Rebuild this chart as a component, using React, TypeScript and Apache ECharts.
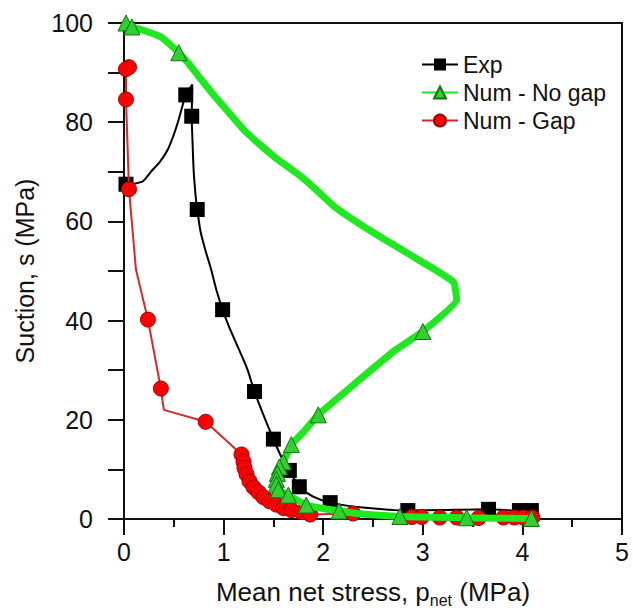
import React, { useEffect, useRef } from "react";
import * as echarts from "echarts";

// Exp (black squares)
const expX = [0.02, 0.1, 0.19, 0.27, 0.36, 0.44, 0.5, 0.55, 0.62, 0.685, 0.68, 0.69, 0.7, 0.72, 0.735, 0.77, 0.82, 0.875, 0.93, 0.99, 1.05, 1.11, 1.18, 1.24, 1.31, 1.38, 1.44, 1.5, 1.58, 1.66, 1.76, 1.9, 2.07, 2.4, 2.85, 3.2, 3.66, 3.97, 4.09];
const expY = [67.5, 67.6, 68.1, 70, 72, 74.5, 77.5, 80.6, 85.5, 87.6, 81.2, 75, 70, 65, 62.4, 57.8, 54, 50.3, 46, 42.2, 39, 36.2, 33, 30.1, 25.7, 22, 19, 16.1, 12.5, 9.8, 6.5, 4.5, 3.3, 2.3, 1.7, 1.8, 1.95, 1.7, 1.7];
const expMarked = [1, 0, 0, 0, 0, 0, 0, 0, 1, 0, 1, 0, 0, 0, 1, 0, 0, 0, 0, 1, 0, 0, 0, 0, 1, 0, 0, 1, 0, 1, 1, 0, 1, 0, 1, 0, 1, 1, 1];

// Num - No gap (green triangles)
const noGapX = [0.02, 0.08, 0.2, 0.37, 0.55, 0.65, 0.77, 0.9, 1.05, 1.2, 1.38, 1.53, 1.68, 1.78, 1.95, 2.11, 2.28, 2.45, 2.62, 2.79, 2.95, 3.12, 3.31, 3.34, 3.0, 2.72, 2.3, 1.95, 1.8, 1.68, 1.6, 1.56, 1.54, 1.53, 1.53, 1.55, 1.65, 1.83, 2.16, 2.45, 2.77, 3.1, 3.44, 4.09];
const noGapY = [100, 99.2, 98.5, 97.2, 94, 91.8, 88.7, 85.5, 82, 78.5, 75.2, 72.7, 70.5, 69, 66, 63, 60.6, 58.4, 56.3, 54.3, 52.3, 50.3, 47.7, 44.2, 37.8, 34, 27, 21, 17.5, 15, 11.5, 10.5, 9.2, 8, 7, 5.9, 4.8, 2.8, 1.6, 0.9, 0.5, 0.35, 0.25, 0.1];
const noGapMarked = [1, 1, 0, 0, 1, 0, 0, 0, 0, 0, 0, 0, 0, 0, 0, 0, 0, 0, 0, 0, 0, 0, 0, 0, 1, 0, 0, 1, 0, 1, 1, 1, 1, 1, 1, 1, 1, 1, 1, 0, 1, 0, 1, 1];

// Num - Gap (red circles)
const gapX = [0.05, 0.02, 0.02, 0.05, 0.12, 0.24, 0.37, 0.4, 0.82, 1.18, 1.2, 1.21, 1.23, 1.26, 1.3, 1.35, 1.4, 1.46, 1.53, 1.6, 1.68, 1.78, 1.87, 2.3, 2.89, 2.99, 3.17, 3.34, 3.56, 3.81, 3.92, 4.01, 4.1];
const gapY = [91.1, 90.7, 84.6, 66.5, 50.3, 40.2, 26.3, 22, 19.6, 13, 11.5, 10.3, 9, 7.6, 6.4, 5.4, 4.4, 3.6, 2.9, 2.2, 1.8, 1.4, 0.9, 1.1, 0.4, 0.4, 0.3, 0.3, 0.2, 0.3, 0.3, 0.3, 0.3];
const gapMarked = [1, 1, 1, 1, 0, 1, 1, 0, 1, 1, 1, 1, 1, 1, 1, 1, 1, 1, 1, 1, 1, 1, 1, 1, 1, 1, 1, 1, 1, 1, 1, 1, 1];

const xTicks = [0, 5, 1];
const yTicks = [0, 100, 10];

function build(xs: number[], ys: number[], marks: number[]) {
  return xs.map((x, i) => (marks[i] ? { value: [x, ys[i]] } : { value: [x, ys[i]], symbol: "none" }));
}

const FONT = "'Liberation Sans', Arial, Helvetica, sans-serif";

export default function App() {
  const ref = useRef<HTMLDivElement>(null);
  useEffect(() => {
    if (!ref.current) return;
    const chart = echarts.init(ref.current, undefined, { renderer: "svg" });
    chart.setOption({
      animation: false,
      backgroundColor: "#fff",
      textStyle: { fontFamily: FONT, color: "#111" },
      grid: {
        left: 124,
        right: 11,
        top: 23,
        bottom: 92,
        outerBoundsMode: "none",
        containLabel: false,
        show: true,
        borderColor: "#111",
        borderWidth: 2,
      },
      legend: {
        orient: "vertical",
        left: 416,
        top: 48,
        itemWidth: 36,
        itemHeight: 15,
        itemGap: 5,
        textStyle: { fontSize: 23, color: "#111", fontFamily: FONT, lineHeight: 23 },
        data: ["Exp", "Num - No gap", "Num - Gap"],
      },
      xAxis: {
        type: "value",
        min: xTicks[0],
        max: xTicks[1],
        interval: xTicks[2],
        name: "Mean net stress, p{sub|net} (MPa)",
        nameLocation: "middle",
        nameGap: 57,
        nameTextStyle: {
          fontSize: 26,
          color: "#111",
          fontFamily: FONT,
          lineHeight: 32,
          rich: { sub: { fontSize: 16, verticalAlign: "bottom", lineHeight: 32, color: "#111", fontFamily: FONT } },
        },
        axisLine: { show: true, onZero: false, lineStyle: { color: "#111", width: 2 } },
        axisTick: { show: true, length: 16, lineStyle: { color: "#111", width: 2 } },
        minorTick: { show: true, splitNumber: 2, length: 8, lineStyle: { color: "#111", width: 2 } },
        axisLabel: { fontSize: 25, color: "#111", margin: 20, fontFamily: FONT },
        splitLine: { show: false },
      },
      yAxis: {
        type: "value",
        min: yTicks[0],
        max: yTicks[1],
        interval: yTicks[2],
        name: "Suction, s (MPa)",
        nameLocation: "middle",
        nameGap: 87,
        nameTextStyle: { fontSize: 25, color: "#111", fontFamily: FONT },
        axisLine: { show: true, onZero: false, lineStyle: { color: "#111", width: 2 } },
        axisTick: { show: true, length: 16, lineStyle: { color: "#111", width: 2 } },
        axisLabel: {
          fontSize: 25,
          color: "#111",
          margin: 31,
          fontFamily: FONT,
          formatter: (v: number) => (v % 20 === 0 ? String(v) : ""),
        },
        splitLine: { show: false },
      },
      series: [
        {
          name: "Exp",
          type: "line",
          z: 2,
          smooth: 0.2,
          data: build(expX, expY, expMarked),
          symbol: "rect",
          symbolSize: 15,
          showSymbol: true,
          itemStyle: { color: "#000", borderColor: "#000", borderWidth: 0 },
          lineStyle: { color: "#000", width: 2 },
        },
        {
          name: "Num - No gap",
          type: "line",
          z: 4,
          smooth: 0.12,
          data: build(noGapX, noGapY, noGapMarked),
          symbol: "triangle",
          symbolSize: 16,
          showSymbol: true,
          itemStyle: { color: "#2fd02f", borderColor: "#137013", borderWidth: 1 },
          lineStyle: { color: "#1ee81e", width: 7 },
        },
        {
          name: "Num - Gap",
          type: "line",
          z: 3,
          data: build(gapX, gapY, gapMarked),
          symbol: "circle",
          symbolSize: 15,
          showSymbol: true,
          itemStyle: { color: "#ff0000", borderColor: "#9a0000", borderWidth: 1 },
          lineStyle: { color: "#d42a2a", width: 2 },
        },
      ],
    });
    return () => chart.dispose();
  }, []);
  return (
    <div
      ref={ref}
      style={{ position: "absolute", left: 0, top: 0, width: 633, height: 611, background: "#fff" }}
    />
  );
}
